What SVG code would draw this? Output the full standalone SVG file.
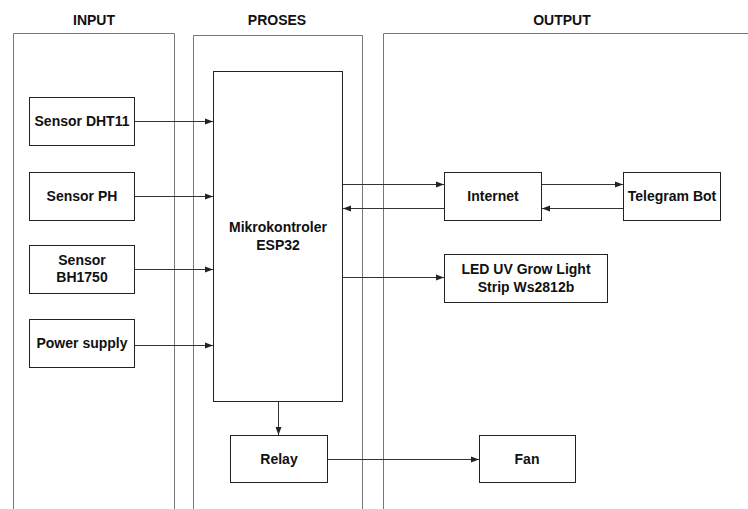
<svg xmlns="http://www.w3.org/2000/svg" width="748" height="509" viewBox="0 0 748 509">
<style>
.col{fill:none;stroke:#777;stroke-width:1}
.box{fill:#fff;stroke:#222;stroke-width:1}
.t{font-family:"Liberation Sans",Arial,sans-serif;font-size:14px;font-weight:bold;fill:#111;text-anchor:middle;dominant-baseline:central}
.c{fill:none;stroke:#333;stroke-width:1;marker-end:url(#ah)}
</style>
<defs>
<marker id="ah" viewBox="0 0 8 8" refX="8" refY="4" markerWidth="8" markerHeight="8" markerUnits="userSpaceOnUse" orient="auto">
<path d="M0,1 L8,4 L0,7 Z" fill="#222"/>
</marker>
</defs>
<rect width="748" height="509" fill="#fff"/>
<g id="col-input"><path class="col" d="M13.5,515 V33.5 H174.5 V515"/><text class="t" x="94" y="20">INPUT</text></g>
<g id="col-proses"><path class="col" d="M193.5,515 V35.5 H362.5 V515"/><text class="t" x="277" y="20">PROSES</text></g>
<g id="col-output"><path class="col" d="M383.5,515 V33.5 H760"/><text class="t" x="562" y="20">OUTPUT</text></g>

<g id="dht11"><rect class="box" x="29.5" y="97.5" width="105" height="48"/><text class="t" x="82" y="121">Sensor DHT11</text></g>
<g id="ph"><rect class="box" x="29.5" y="172.5" width="105" height="48"/><text class="t" x="82" y="196">Sensor PH</text></g>
<g id="bh1750"><rect class="box" x="29.5" y="245.5" width="105" height="48"/><text class="t" x="82" y="260">Sensor</text><text class="t" x="82" y="277">BH1750</text></g>
<g id="power"><rect class="box" x="29.5" y="319.5" width="105" height="48"/><text class="t" x="82" y="343">Power supply</text></g>

<g id="esp32"><rect class="box" x="213.5" y="71.5" width="129" height="330"/><text class="t" x="278" y="227">Mikrokontroler</text><text class="t" x="278" y="245">ESP32</text></g>
<g id="relay"><rect class="box" x="230.5" y="435.5" width="97" height="47"/><text class="t" x="279" y="459">Relay</text></g>

<g id="internet"><rect class="box" x="444.5" y="172.5" width="97" height="48"/><text class="t" x="493" y="196">Internet</text></g>
<g id="telegram"><rect class="box" x="623.5" y="172.5" width="97" height="48"/><text class="t" x="672" y="196">Telegram Bot</text></g>
<g id="led"><rect class="box" x="444.5" y="254.5" width="163" height="48"/><text class="t" x="526" y="269">LED UV Grow Light</text><text class="t" x="526" y="287">Strip Ws2812b</text></g>
<g id="fan"><rect class="box" x="479.5" y="435.5" width="96" height="47"/><text class="t" x="527" y="459">Fan</text></g>

<g id="connectors">
<path class="c" d="M135,121.5 H213"/>
<path class="c" d="M135,196.5 H213"/>
<path class="c" d="M135,269.5 H213"/>
<path class="c" d="M135,345.5 H213"/>
<path class="c" d="M343,184.5 H444"/>
<path class="c" d="M444,208.5 H343"/>
<path class="c" d="M542,184.5 H623"/>
<path class="c" d="M623,208.5 H542"/>
<path class="c" d="M343,277.5 H444"/>
<path class="c" d="M278.5,402 V435"/>
<path class="c" d="M328,459.5 H479"/>
</g>
</svg>
